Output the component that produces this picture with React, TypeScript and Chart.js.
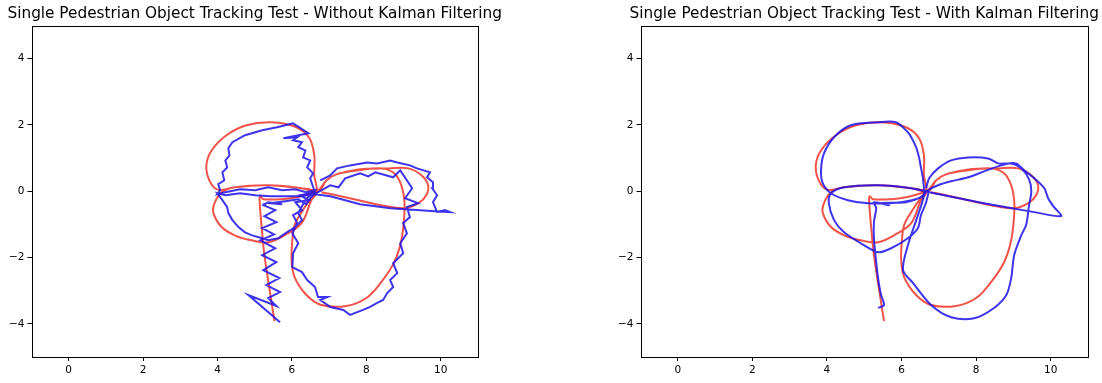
import React, { useEffect, useRef } from "react";
import { Chart, registerables } from "chart.js";
Chart.register(...registerables);

const xTicks = [0, 2, 4, 6, 8, 10];
const yTicks = [-4, -2, 0, 2, 4];
const xRange = [-1, 11];
const yRange = [-5, 5];
const titles = [
  "Single Pedestrian Object Tracking Test - Without Kalman Filtering",
  "Single Pedestrian Object Tracking Test - With Kalman Filtering",
];

// ground-truth path (red), same in both panels
const groundTruth: number[][] = [
  [5.53,-3.92],[5.40,-2.98],[5.26,-1.93],[5.18,-1.02],[5.13,-0.27],[5.15,-0.15],[5.23,-0.24],[5.72,-0.24],[6.12,-0.18],[6.52,-0.06],[6.71,0.03],
  [6.93,0.33],[7.19,0.51],[7.79,0.63],[8.40,0.69],
  [8.75,0.54],[8.94,0.18],[9.02,-0.27],[9.02,-0.72],[8.94,-1.48],[8.75,-2.14],[8.40,-2.74],[8.00,-3.22],[7.46,-3.46],[6.79,-3.43],[6.39,-3.13],[6.07,-2.59],[5.99,-2.08],[6.01,-1.48],[6.07,-1.02],[6.26,-0.63],[6.47,-0.27],[6.66,0.03],
  [6.60,0.48],[6.60,1.08],[6.47,1.60],[6.12,1.93],[5.45,2.08],[4.78,1.99],[4.24,1.69],[3.84,1.23],[3.70,0.78],[3.78,0.33],[4.00,0.05],
  [4.46,0.12],[5.37,0.18],[6.26,0.09],[6.66,-0.03],
  [6.52,-0.27],[6.26,-0.96],[5.80,-1.33],[5.37,-1.54],[4.91,-1.48],[4.46,-1.33],[4.11,-1.08],[3.89,-0.66],[3.92,-0.36],[4.11,-0.03],
  [4.46,0.12],[5.37,0.18],[6.26,0.09],[6.71,0.0],
  [6.93,0.33],[7.19,0.51],[7.79,0.66],[8.59,0.69],[9.13,0.69],[9.48,0.48],[9.66,0.18],[9.61,-0.12],[9.40,-0.36],[9.02,-0.51],[8.40,-0.42],[7.79,-0.27],[7.19,-0.12],[6.79,-0.03],
];

// raw measurements (blue, left panel)
const measuredPath: number[][] = [
  [5.68,-3.95],[4.83,-3.13],[5.58,-3.46],[5.36,-3.22],[5.68,-3.04],[5.31,-2.83],[5.66,-2.62],[5.23,-2.38],[5.58,-2.14],[5.20,-1.93],[5.55,-1.72],[5.15,-1.48],[5.52,-1.30],[5.20,-1.11],[5.58,-0.93],[5.26,-0.75],[5.55,-0.57],[5.23,-0.42],[5.36,-0.33],[5.74,-0.39],[5.42,-0.36],[5.82,-0.30],[6.17,-0.24],[6.38,-0.39],[6.54,-0.15],[6.70,-0.03],
  [7.03,0.18],[7.25,0.12],[7.43,0.39],[7.83,0.54],[8.05,0.45],[8.24,0.57],[8.72,0.42],[8.91,0.63],[9.23,0.09],[9.04,-0.21],[9.39,-0.36],[9.09,-0.48],[9.17,-0.78],[8.99,-0.96],[9.09,-1.27],[8.91,-1.57],[8.99,-1.87],[8.72,-2.17],[8.83,-2.47],[8.64,-2.68],[8.72,-2.89],[8.56,-3.07],[8.45,-3.28],[8.29,-3.37],[8.10,-3.49],[7.91,-3.58],[7.56,-3.73],[7.38,-3.58],[7.03,-3.49],[6.76,-3.28],[6.95,-3.19],[6.70,-3.19],[6.62,-2.89],[6.41,-2.68],[6.27,-2.44],[6.01,-2.29],[6.03,-1.87],[6.17,-1.57],[6.01,-1.27],[6.14,-0.96],[6.03,-0.72],[6.27,-0.57],[6.09,-0.33],[6.44,-0.27],[6.22,-0.12],[6.62,-0.03],
  [6.57,0.12],[6.49,0.39],[6.57,0.54],[6.41,0.72],[6.49,0.93],[6.30,1.02],[6.36,1.23],[6.17,1.33],[6.27,1.48],[6.03,1.54],[6.14,1.63],[5.77,1.60],[6.44,1.75],[6.03,2.05],[5.82,1.99],[5.60,1.93],[5.20,1.84],[4.74,1.69],[4.40,1.48],[4.29,1.30],[4.32,1.08],[4.21,0.93],[4.26,0.72],[4.13,0.57],[4.18,0.33],[4.02,0.21],[4.07,0.03],[3.99,-0.09],[4.21,-0.03],[4.61,0.06],[5.01,0.03],[5.36,0.12],[5.74,0.03],[6.09,0.06],[6.38,-0.03],[6.62,0.03],
  [6.36,-0.27],[6.17,-0.66],[6.27,-0.87],[6.09,-1.08],[5.82,-1.27],[5.63,-1.42],[5.36,-1.48],[5.20,-1.42],[4.93,-1.33],[4.74,-1.24],[4.56,-1.08],[4.40,-0.87],[4.29,-0.66],[4.26,-0.48],[4.13,-0.27],[3.99,-0.06],
  [4.21,-0.12],[4.61,-0.06],[5.01,-0.12],[5.42,-0.15],[5.82,-0.15],[6.22,-0.15],[6.62,-0.09],[7.03,-0.15],[7.43,-0.27],[7.83,-0.39],[8.24,-0.45],[8.64,-0.51],[9.04,-0.54],[9.44,-0.57],[9.84,-0.60],[10.25,-0.63],
  [10.11,-0.57],[9.90,-0.63],[9.79,-0.33],[9.90,-0.12],[9.77,0.09],[9.79,0.27],[9.63,0.42],[9.71,0.57],[9.36,0.69],[9.17,0.78],[8.83,0.87],[8.64,0.93],[8.29,0.84],[8.02,0.87],[7.56,0.78],[7.21,0.69],[7.03,0.48],[6.76,0.33],
];

// Kalman-filtered estimates (blue, right panel)
const filteredPath: number[][] = [
  [5.37,-3.52],[5.53,-3.43],[5.45,-3.13],[5.37,-2.62],[5.32,-2.14],[5.26,-1.42],[5.26,-0.93],[5.32,-0.51],[5.26,-0.33],[5.66,-0.42],[5.45,-0.36],[6.12,-0.33],[6.52,-0.18],[6.71,0.03],
  [6.98,0.18],[7.33,0.30],[7.79,0.42],[8.21,0.60],[8.67,0.78],[8.94,0.84],[9.21,0.69],[9.42,0.36],[9.48,0.00],[9.42,-0.42],[9.34,-1.02],[9.21,-1.33],[9.02,-1.93],[8.94,-2.62],[8.81,-3.13],[8.48,-3.52],[7.95,-3.83],[7.33,-3.80],[6.79,-3.43],[6.31,-2.77],[6.04,-2.38],[6.17,-1.63],[6.44,-0.72],[6.60,-0.12],
  [6.58,0.33],[6.52,0.72],[6.47,1.02],[6.39,1.33],[6.26,1.63],[6.17,1.78],[5.85,2.08],[5.37,2.08],[4.64,1.99],[4.19,1.63],[3.92,1.14],[3.84,0.63],[3.89,0.24],[4.11,-0.06],[4.56,-0.27],[5.10,-0.36],[5.99,-0.33],[6.52,-0.18],[6.71,0.03],
  [6.66,-0.33],[6.52,-0.72],[6.44,-1.11],[6.17,-1.42],[5.72,-1.72],[5.37,-1.84],[4.91,-1.57],[4.46,-1.24],[4.19,-0.87],[4.05,-0.36],[4.11,-0.06],[4.46,0.12],
  [5.37,0.18],[6.26,0.09],[6.87,-0.06],[8.21,-0.36],[9.56,-0.63],[10.28,-0.75],
  [10.09,-0.48],[9.93,-0.21],[9.83,0.09],[9.56,0.39],[9.29,0.63],[9.07,0.84],[8.86,0.84],[8.59,0.84],[8.32,0.99],[7.79,1.02],[7.33,0.93],[6.98,0.69],[6.74,0.39],[6.66,0.09],
];

const RED = "rgba(238,40,28,0.8)";
const BLUE = "rgba(28,16,235,0.85)";

const framePlugin = {
  id: "frame",
  afterDraw(chart: any, _args: any, opts: any) {
    const { ctx, chartArea: a } = chart;
    ctx.save();
    ctx.strokeStyle = "#000";
    ctx.lineWidth = 1;
    ctx.strokeRect(Math.round(a.left) + 0.5, Math.round(a.top) + 0.5, Math.round(a.right - a.left) - 1, Math.round(a.bottom - a.top) - 1);
    // title centred over the plot area (matplotlib style)
    ctx.fillStyle = "#000";
    ctx.font = "15.3px 'DejaVu Sans'";
    ctx.textAlign = "center";
    ctx.textBaseline = "alphabetic";
    ctx.fillText(opts.text, (a.left + a.right) / 2, 17.5);
    ctx.restore();
  },
};

const fmt = (v: number) => (v < 0 ? "\u2212" + Math.abs(v) : String(v));

function TrackChart(props: { title: string; blue: number[][]; smooth: boolean; left: number; width: number; rightPad: number }) {
  const ref = useRef<HTMLCanvasElement>(null);
  useEffect(() => {
    const toPts = (arr: number[][]) => arr.map(([x, y]) => ({ x, y }));
    const chart = new Chart(ref.current!, {
      type: "scatter",
      data: {
        datasets: [
          { data: toPts(props.blue), showLine: true, borderColor: BLUE, borderWidth: 2, pointRadius: 0, tension: props.smooth ? 0.3 : 0, order: 1 },
          { data: toPts(groundTruth), showLine: true, borderColor: RED, borderWidth: 2, pointRadius: 0, tension: 0.35, order: 2 },
        ],
      },
      options: {
        responsive: false,
        animation: false,
        layout: { padding: { left: 0, right: props.rightPad, top: 25.5, bottom: 0 } },
        plugins: {
          legend: { display: false },
          tooltip: { enabled: false },
          title: { display: false },
          frame: { text: props.title },
        },
        scales: {
          x: {
            type: "linear",
            min: xRange[0],
            max: xRange[1],
            afterBuildTicks: (s: any) => { s.ticks = xTicks.map((v) => ({ value: v })); },
            afterFit: (s: any) => { s.height = 26; },
            ticks: { color: "#000", font: { family: "DejaVu Sans", size: 10.5 }, padding: 3, maxRotation: 0, callback: (v: any) => fmt(Number(v)) },
            grid: { display: true, drawOnChartArea: false, drawTicks: true, tickLength: 4, color: "#000" },
            border: { display: false },
          },
          y: {
            type: "linear",
            min: yRange[0],
            max: yRange[1],
            afterBuildTicks: (s: any) => { s.ticks = yTicks.map((v) => ({ value: v })); },
            afterFit: (s: any) => { s.width = 31.5; },
            ticks: { color: "#000", font: { family: "DejaVu Sans", size: 10.5 }, padding: 3, callback: (v: any) => fmt(Number(v)) },
            grid: { display: true, drawOnChartArea: false, drawTicks: true, tickLength: 4, color: "#000" },
            border: { display: false },
          },
        },
      },
      plugins: [framePlugin],
    } as any);
    return () => chart.destroy();
  }, []);
  return (
    <canvas
      ref={ref}
      width={props.width}
      height={383}
      style={{ position: "absolute", left: props.left, top: 0, width: props.width, height: 383 }}
    />
  );
}

export default function App() {
  return (
    <div style={{ position: "fixed", left: 0, top: 0, width: 1102, height: 383, background: "#fff", overflow: "hidden" }}>
      <TrackChart title={titles[0]} blue={measuredPath} smooth={false} left={0} width={509} rightPad={31} />
      <TrackChart title={titles[1]} blue={filteredPath} smooth={true} left={608.5} width={510} rightPad={31} />
    </div>
  );
}
